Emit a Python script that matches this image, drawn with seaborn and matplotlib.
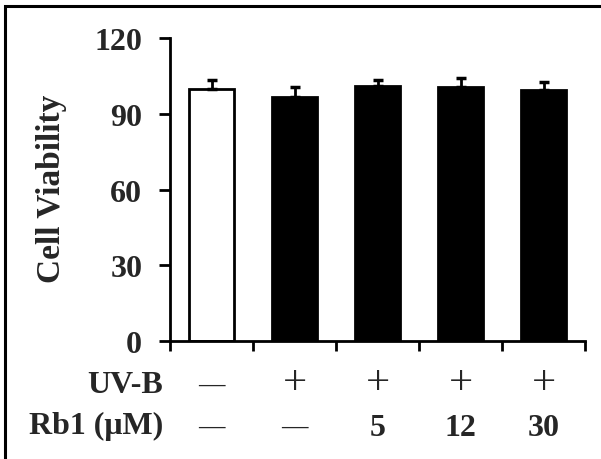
import matplotlib
matplotlib.use('Agg')
import matplotlib.pyplot as plt
import matplotlib.patches as patches
import matplotlib.transforms as transforms
import numpy as np
import pandas as pd
import seaborn as sns

# Data
groups = ['Control', 'UV-B', 'Rb1 5', 'Rb1 12', 'Rb1 30']
viability = [100.0, 96.6, 101.0, 100.6, 99.5]
sem = [3.4, 4.2, 2.6, 3.8, 3.2]
uvb_row = ['—', '+', '+', '+', '+']
rb1_row = ['—', '—', '5', '12', '30']
bar_colors = ['white', 'black', 'black', 'black', 'black']
yticks = [0, 30, 60, 90, 120]


def main():
    sns.set_style('ticks')
    plt.rcParams['font.family'] = ['Liberation Serif', 'DejaVu Serif']
    plt.rcParams['font.weight'] = 'bold'

    df = pd.DataFrame({'group': groups, 'viability': viability})

    fig = plt.figure(figsize=(6.01, 4.60), dpi=100)
    ax = fig.add_axes([0.2829, 0.2572, 0.6905, 0.6571])

    sns.barplot(data=df, x='group', y='viability', hue='group',
                palette=bar_colors, legend=False, width=0.55,
                edgecolor='black', linewidth=2, errorbar=None, ax=ax)

    # upward-only error bars
    xs = np.arange(len(groups))
    ax.errorbar(xs, viability, yerr=[np.zeros(len(sem)), sem], fmt='none',
                ecolor='black', elinewidth=2, capsize=3.5, capthick=2.5,
                zorder=1)

    ax.set_ylim(0, 120)
    ax.set_xlim(-0.5, len(groups) - 0.5)
    ax.set_yticks(yticks)
    ax.set_yticklabels([str(t) for t in yticks], fontsize=23,
                       fontweight='bold')
    ax.set_xticks(np.arange(len(groups) + 1) - 0.5)
    ax.set_xticklabels([])
    ax.tick_params(axis='y', length=8, width=2, pad=12, color='black')
    ax.tick_params(axis='x', length=7, width=2, color='black')
    ax.set_xlabel('')
    ax.set_ylabel('')
    sns.despine(ax=ax)
    for side in ['left', 'bottom']:
        ax.spines[side].set_linewidth(2)
        ax.spines[side].set_color('black')

    fig.text(0.085, 0.59, 'Cell Viability', rotation=90, ha='center',
             va='center', fontsize=24, fontweight='bold')

    # condition table under the axis
    trans = transforms.blended_transform_factory(ax.transData, fig.transFigure)
    fig.text(0.271, 0.146, 'UV-B', ha='right', va='baseline', fontsize=23,
             fontweight='bold')
    fig.text(0.271, 0.056, 'Rb1 (μM)', ha='right', va='baseline',
             fontsize=23, fontweight='bold')
    for i, (u, r) in enumerate(zip(uvb_row, rb1_row)):
        if u == '—':
            ax.text(i, 0.162, u, transform=trans, ha='center', va='center',
                    fontsize=19, fontweight='bold')
        else:
            ax.text(i, 0.143, u, transform=trans, ha='center',
                    va='baseline', fontsize=31, fontweight='normal')
        if r == '—':
            ax.text(i, 0.071, r, transform=trans, ha='center', va='center',
                    fontsize=19, fontweight='bold')
        else:
            ax.text(i, 0.052, r, transform=trans, ha='center',
                    va='baseline', fontsize=23, fontweight='bold')

    # outer frame (left and top edges visible)
    frame = patches.Rectangle((5 / 601, -0.1), 1.2, 1.1 - 7 / 460,
                              transform=fig.transFigure, fill=False,
                              edgecolor='black', linewidth=2.2)
    fig.add_artist(frame)

    fig.savefig('out.png', dpi=100, facecolor='white')


if __name__ == '__main__':
    main()
